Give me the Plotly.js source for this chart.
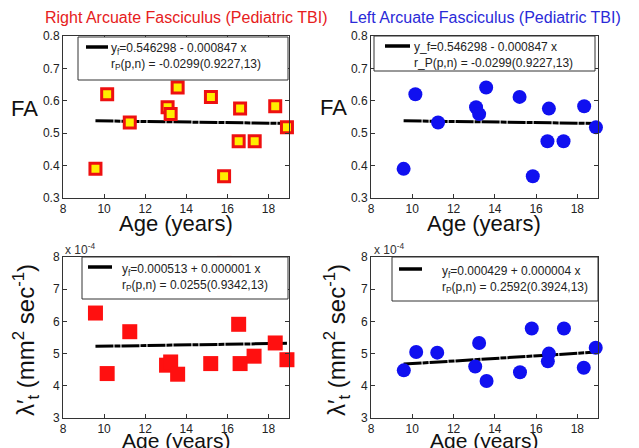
<!DOCTYPE html>
<html>
<head>
<meta charset="utf-8">
<script src="https://cdn.plot.ly/plotly-3.0.1.min.js"></script>
<style>html,body{margin:0;padding:0;background:#fff;}#chart{width:639px;height:448px;}</style>
</head>
<body>
<div id="chart"></div>
<script>
// ---- data ----
var ageRight = [9.58, 10.15, 11.25, 13.09, 13.24, 13.58, 15.2, 15.84, 16.55, 16.62, 17.33, 18.33, 18.9];
var faRight  = [0.39, 0.62, 0.533, 0.58, 0.559, 0.641, 0.612, 0.367, 0.475, 0.576, 0.475, 0.583, 0.518];
var ageLeft  = [9.58, 10.15, 11.25, 13.09, 13.24, 13.58, 15.2, 15.84, 16.55, 16.62, 17.33, 18.33, 18.9];
var faLeft   = [0.39, 0.62, 0.533, 0.58, 0.559, 0.641, 0.612, 0.367, 0.475, 0.576, 0.475, 0.583, 0.518];
// lambda values in units of 1e-4 mm^2/s
var ageRightL = [9.58, 10.15, 11.25, 13.04, 13.24, 13.58, 15.19, 15.84, 16.55, 16.62, 17.3, 18.33, 18.9];
var lamRight  = [6.26, 4.38, 5.68, 4.64, 4.74, 4.36, 4.69, 7.8, 5.91, 4.69, 4.92, 5.33, 4.81];
var ageLeftL  = [9.59, 10.19, 11.21, 13.05, 13.24, 13.6, 15.22, 15.79, 16.57, 16.62, 17.35, 18.31, 18.89];
var lamLeft   = [4.48, 5.05, 5.03, 4.6, 5.33, 4.15, 4.42, 5.78, 4.76, 5.0, 5.78, 4.56, 5.18];
// fit coefficients [intercept, slope]
var fitFA_R = [0.546298, -0.000847];
var fitFA_L = [0.546298, -0.000847];
var fitLam_R = [0.000513, 0.000001];
var fitLam_L = [0.000429, 0.000004];
var lamScale = 1e4;
var fitRange = [9.58, 18.9];
// texts
var titleRight = 'Right Arcuate Fasciculus (Pediatric TBI)';
var titleLeft  = 'Left Arcuate Fasciculus (Pediatric TBI)';
var legFA_R  = 'y<sub>f</sub>=0.546298 - 0.000847 x<br>r<sub>P</sub>(p,n) = -0.0299(0.9227,13)';
var legFA_L  = 'y_f=0.546298 - 0.000847 x<br>r_P(p,n) = -0.0299(0.9227,13)';
var legLam_R = 'y<sub>f</sub>=0.000513 + 0.000001 x<br>r<sub>P</sub>(p,n) = 0.0255(0.9342,13)';
var legLam_L = 'y<sub>f</sub>=0.000429 + 0.000004 x<br>r<sub>P</sub>(p,n) = 0.2592(0.3924,13)';
var xTicks = [8, 10, 12, 14, 16, 18];
var faTicks = [0.3, 0.4, 0.5, 0.6, 0.7, 0.8];
var lamTicks = [3, 4, 5, 6, 7, 8];

// ---- helpers ----
var W = 639, H = 448;
function px(x){ return x / W; }
function py(y){ return 1 - y / H; }
function fitLine(c, scale){
  scale = scale || 1;
  return fitRange.map(function(x){ return (c[0] + c[1]*x) * scale; });
}

var font = 'Liberation Sans, Arial, sans-serif';
var red = '#ff1010', blue = '#1010f0';
var fitStyle = {color:'#000', width:3, dash:'18px,1px,6px,1px'};

var traces = [
  {x: fitRange, y: fitLine(fitFA_R), xaxis:'x', yaxis:'y', mode:'lines', line:fitStyle, hoverinfo:'skip'},
  {x: ageRight, y: faRight, xaxis:'x', yaxis:'y', mode:'markers', cliponaxis:false,
   marker:{symbol:'square', size:11, color:'#ffee00', line:{color:'#ee1010', width:3}}},
  {x: fitRange, y: fitLine(fitFA_L), xaxis:'x2', yaxis:'y2', mode:'lines', line:fitStyle, hoverinfo:'skip'},
  {x: ageLeft, y: faLeft, xaxis:'x2', yaxis:'y2', mode:'markers', cliponaxis:false,
   marker:{symbol:'circle', size:14, color:blue, line:{width:0}}},
  {x: fitRange, y: fitLine(fitLam_R, lamScale), xaxis:'x3', yaxis:'y3', mode:'lines', line:fitStyle, hoverinfo:'skip'},
  {x: ageRightL, y: lamRight, xaxis:'x3', yaxis:'y3', mode:'markers', cliponaxis:false,
   marker:{symbol:'square', size:15, color:red, line:{width:0}}},
  {x: fitRange, y: fitLine(fitLam_L, lamScale), xaxis:'x4', yaxis:'y4', mode:'lines', line:fitStyle, hoverinfo:'skip'},
  {x: ageLeftL, y: lamLeft, xaxis:'x4', yaxis:'y4', mode:'markers', cliponaxis:false,
   marker:{symbol:'circle', size:14, color:blue, line:{width:0}}}
];

function xax(dom, anchor){
  return {domain: dom, anchor: anchor, range:[8,19], tickvals: xTicks, ticks:'inside', ticklen:4,
    showline:true, mirror:'ticks', linecolor:'#333', linewidth:1, showgrid:false, zeroline:false,
    tickfont:{family:font, size:12, color:'#222'}, tickcolor:'#333'};
}
function yax(dom, anchor, range, tv){
  return {domain: dom, anchor: anchor, range: range, tickvals: tv, ticks:'inside', ticklen:4,
    showline:true, mirror:'ticks', linecolor:'#333', linewidth:1, showgrid:false, zeroline:false,
    tickfont:{family:font, size:12, color:'#222'}, tickcolor:'#333'};
}

var dxL = [px(63), px(289)], dxR = [px(371), px(598)];
var dyT = [py(198), py(36)], dyB = [py(418), py(257)];

var shapes = [];
var annotations = [];
function legendBox(x0, y0, x1, y1, lx0, lx1, ly, tx, ty, text){
  shapes.push({type:'rect', xref:'paper', yref:'paper', x0:px(x0), x1:px(x1), y0:py(y1), y1:py(y0),
    line:{color:'#333', width:1}, fillcolor:'#fff', layer:'above'});
  shapes.push({type:'line', xref:'paper', yref:'paper', x0:px(lx0), x1:px(lx1), y0:py(ly), y1:py(ly),
    line:{color:'#000', width:3.5}, layer:'above'});
  annotations.push({xref:'paper', yref:'paper', x:px(tx), y:py(ty), xanchor:'left', yanchor:'middle',
    text:text, showarrow:false, align:'left', font:{family:font, size:12, color:'#222'}});
}
legendBox(78, 37, 288, 80, 86, 108, 47, 109, 57, legFA_R);
legendBox(374, 36, 595, 71, 385, 410, 46, 412, 55, legFA_L);
legendBox(82, 257, 288, 299, 88, 112, 267, 120, 277, legLam_R);
legendBox(392, 257, 598, 301, 399, 422, 269, 440, 279, legLam_L);

function ann(x, y, text, size, color, angle){
  annotations.push({xref:'paper', yref:'paper', x:px(x), y:py(y), xanchor:'center', yanchor:'middle',
    text:text, showarrow:false, textangle: angle || 0, font:{family:font, size:size, color:color}});
}
ann(186, 17, titleRight, 16, '#e62020');
ann(485, 17, titleLeft, 16, '#2a2ad8');
ann(24, 108, 'FA', 22, '#111');
ann(333, 107, 'FA', 22, '#111');
ann(176, 223, 'Age (years)', 22, '#111');
ann(484, 223, 'Age (years)', 22, '#111');
ann(176, 440, 'Age (years)', 21, '#111');
ann(484, 440, 'Age (years)', 21, '#111');
ann(26, 340, 'λ′<sub>t</sub> (mm<sup>2</sup> sec<sup>-1</sup>)', 24, '#111', -90);
ann(337, 340, 'λ′<sub>t</sub> (mm<sup>2</sup> sec<sup>-1</sup>)', 24, '#111', -90);
ann(80, 249, 'x 10<sup>-4</sup>', 12, '#333');
ann(389, 249, 'x 10<sup>-4</sup>', 12, '#333');

var layout = {
  width: W, height: H, margin:{l:0, r:0, t:0, b:0},
  paper_bgcolor:'#fff', plot_bgcolor:'#fff', showlegend:false,
  xaxis: xax(dxL, 'y'), yaxis: yax(dyT, 'x', [0.3, 0.8], faTicks),
  xaxis2: xax(dxR, 'y2'), yaxis2: yax(dyT, 'x2', [0.3, 0.8], faTicks),
  xaxis3: xax(dxL, 'y3'), yaxis3: yax(dyB, 'x3', [3, 8], lamTicks),
  xaxis4: xax(dxR, 'y4'), yaxis4: yax(dyB, 'x4', [3, 8], lamTicks),
  shapes: shapes, annotations: annotations
};
Plotly.newPlot('chart', traces, layout, {displayModeBar:false, staticPlot:true});
</script>
</body>
</html>
